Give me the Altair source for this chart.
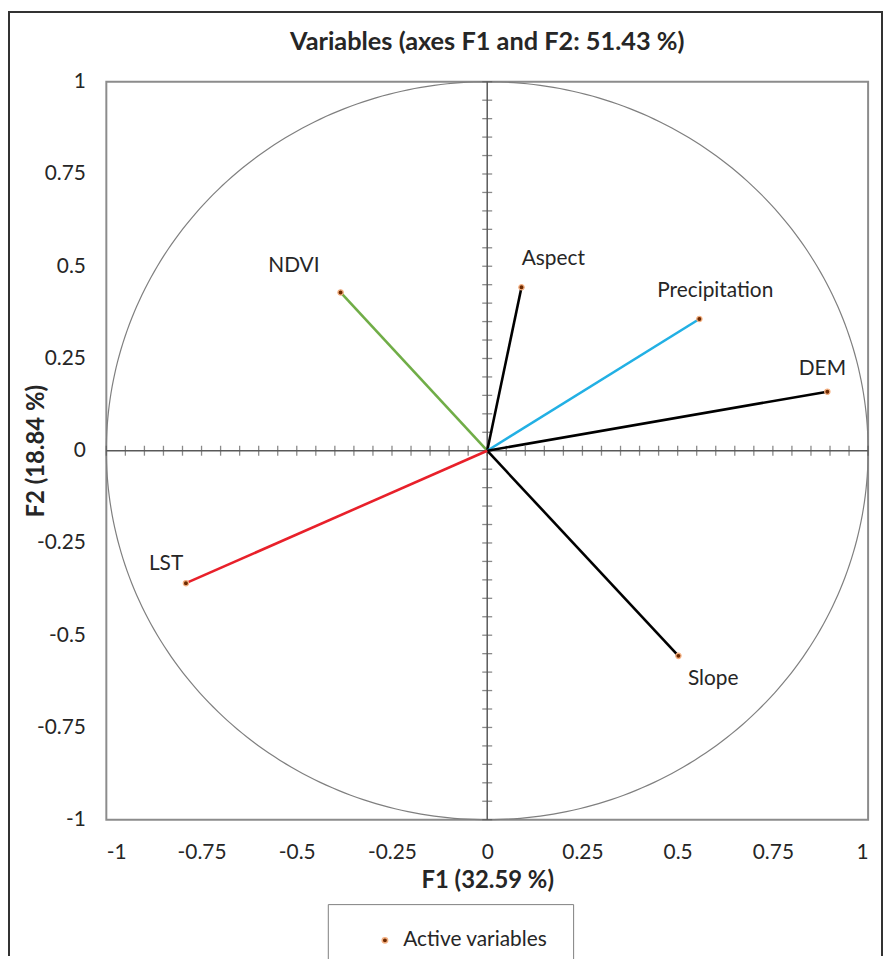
import altair as alt
import pandas as pd
import numpy as np

# ---- data ----
variables = ["NDVI", "Aspect", "Precipitation", "DEM", "Slope", "LST"]
f1 = [-0.385, 0.090, 0.557, 0.893, 0.502, -0.791]
f2 = [0.429, 0.443, 0.357, 0.160, -0.556, -0.359]
axis_ticks = [-1, -0.75, -0.5, -0.25, 0, 0.25, 0.5, 0.75, 1]
series_name = "Active variables"

# ---- styles ----
vector_colors = {"NDVI": "#70AD47", "Aspect": "#000000", "Precipitation": "#22B0E4",
                 "DEM": "#000000", "Slope": "#000000", "LST": "#E8202A"}
label_offsets = {"NDVI": (-47, -27), "Aspect": (32, -28), "Precipitation": (16, -28),
                 "DEM": (-5, -23), "Slope": (35, 23), "LST": (-20, -19)}
FONT = "Lato"
TXT = "#262626"
LBL = 21
TTL = 24

df = pd.DataFrame({"variable": variables, "F1": f1, "F2": f2})
df["series"] = series_name
df["vcolor"] = df["variable"].map(vector_colors)

# unit correlation circle
ang = np.linspace(0, 2 * np.pi, 361)
circle_df = pd.DataFrame({"cx": np.cos(ang), "cy": np.sin(ang), "i": np.arange(361)})

# minor ticks on the centre axes
minor = np.round(np.arange(-1, 1.0001, 0.05), 2)
tick_df = pd.DataFrame({"t": minor})

axes_df = pd.DataFrame({"x": [-1, 0], "y": [0, -1], "x2": [1, 0], "y2": [0, 1]})

xs = alt.Scale(domain=[-1, 1], nice=False, zero=False)
ys = alt.Scale(domain=[-1, 1], nice=False, zero=False)

x_axis = alt.Axis(values=axis_ticks, labelExpr="'' + datum.value", ticks=False, domain=False,
                  grid=False, labelPadding=22, labelFontSize=LBL, labelFont=FONT, labelColor=TXT,
                  title="F1 (32.59 %)", titleFont=FONT, titleFontSize=TTL, titleFontWeight="bold",
                  titleColor=TXT, titleAnchor="middle", titleX=383.5, titleY=61,
                  titleBaseline="middle", titleAlign="center")
y_axis = alt.Axis(values=axis_ticks, labelExpr="'' + datum.value", ticks=False, domain=False,
                  grid=False, labelPadding=21, labelFontSize=LBL, labelFont=FONT, labelColor=TXT,
                  title="F2 (18.84 %)", titleFont=FONT, titleFontSize=TTL, titleFontWeight="bold",
                  titleColor=TXT, titleX=-70, titleY=371.5, titleAngle=-90,
                  titleBaseline="middle", titleAlign="center")

circle = alt.Chart(circle_df).mark_line(color="#7f7f7f", strokeWidth=1.2).encode(
    x=alt.X("cx:Q", scale=xs, axis=x_axis),
    y=alt.Y("cy:Q", scale=ys, axis=y_axis),
    order="i:Q",
)

center_axes = alt.Chart(axes_df).mark_rule(color="#595959", strokeWidth=1.5).encode(
    x="x:Q", y="y:Q", x2="x2:Q", y2="y2:Q"
)

ticks_h = alt.Chart(tick_df).mark_tick(orient="vertical", size=10, thickness=1.3, color="#595959").encode(
    x="t:Q", y=alt.datum(0)
)
ticks_v = alt.Chart(tick_df).mark_tick(orient="horizontal", size=10, thickness=1.3, color="#595959").encode(
    y="t:Q", x=alt.datum(0)
)

vectors = alt.Chart(df).mark_rule(strokeWidth=2.6).encode(
    x="F1:Q", y="F2:Q", x2=alt.datum(0), y2=alt.datum(0),
    color=alt.Color("vcolor:N", scale=None),
)

points = alt.Chart(df).mark_circle(size=28, opacity=1, stroke="#F4B183", strokeWidth=1.3).encode(
    x="F1:Q", y="F2:Q",
    color=alt.Color("series:N", scale=alt.Scale(range=["#6E2A00"]),
                    legend=alt.Legend(title=None, orient="none", legendX=223, legendY=828,
                                      strokeColor="#7f7f7f", padding=26, symbolOffset=21,
                                      symbolType="circle", symbolSize=30, labelFont=FONT,
                                      labelFontSize=LBL, labelColor=TXT, labelOffset=8)),
)

labels = []
for v in variables:
    dx, dy = label_offsets[v]
    labels.append(
        alt.Chart(df).transform_filter(alt.datum.variable == v).mark_text(
            dx=dx, dy=dy, fontSize=LBL, font=FONT, color=TXT, align="center", baseline="middle"
        ).encode(x="F1:Q", y="F2:Q", text="variable:N")
    )

frame_l = alt.Chart(df).mark_rule(color="#333333", strokeWidth=1.5).encode(
    x=alt.value(-98), y=alt.value(-71), y2=alt.value(880))
frame_t = alt.Chart(df).mark_rule(color="#333333", strokeWidth=1.5).encode(
    x=alt.value(-99), x2=alt.value(782), y=alt.value(-70.3))
frame_r = alt.Chart(df).mark_rule(color="#333333", strokeWidth=1.5).encode(
    x=alt.value(781), y=alt.value(-71), y2=alt.value(880))

chart = alt.layer(
    circle, center_axes, ticks_h, ticks_v, vectors, points, *labels, frame_l, frame_t, frame_r
).properties(
    width=767, height=743,
    autosize=alt.AutoSizeParams(type="none"),
    padding={"left": 99, "top": 71, "right": 15, "bottom": 137},
    title=alt.TitleParams("Variables (axes F1 and F2: 51.43 %)", font=FONT, fontSize=25.5,
                          fontWeight="bold", color=TXT, anchor="middle", baseline="bottom",
                          offset=0, dy=70),
).configure_view(stroke="#8c8c8c", strokeWidth=2)

chart.save("out.html", embed_options={"renderer": "svg", "actions": False})
